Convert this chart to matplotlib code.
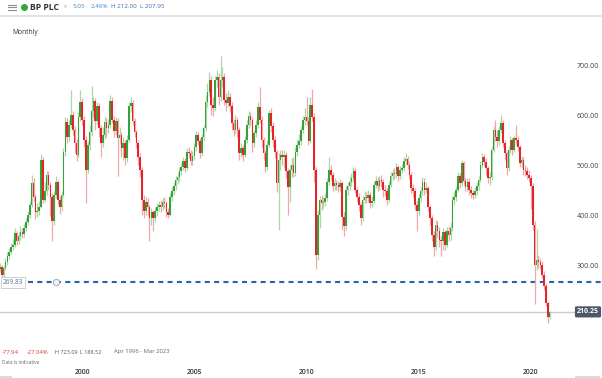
import numpy as np
import matplotlib
matplotlib.use("Agg")
import matplotlib.pyplot as plt
from matplotlib.lines import Line2D
from matplotlib.patches import Rectangle
import matplotlib.transforms as mtransforms

plt.rcParams['font.family'] = ['Open Sans', 'DejaVu Sans']
plt.rcParams['lines.scale_dashes'] = False

# monthly candles, Apr 1996 .. Nov 2020 (open = previous close)
first_open = 288
closes = [296, 300, 284, 298, 311, 322, 331, 340, 345,
          368, 352, 362, 370, 366, 378, 390, 405, 425, 468, 440, 410,
          412, 421, 515, 435, 452, 485, 465, 440, 392, 445, 470, 435,
          420, 445, 530, 590, 560, 585, 604, 575, 548, 525, 600, 630,
          595, 555, 495, 545, 570, 612, 632, 592, 622, 578, 548, 565,
          590, 578, 585, 632, 595, 572, 592, 558, 565, 538, 548, 518,
          555, 622, 628, 592, 570, 548, 520, 495, 435, 412, 430, 420,
          398, 410, 398, 412, 420, 425, 420, 430, 428, 410, 405, 440,
          452, 462, 475, 480, 492, 500, 512, 498, 530, 528, 512, 522,
          540, 565, 552, 528, 560, 578, 630, 650, 675, 625, 618, 675,
          680, 640, 675, 680, 635, 628, 640, 622, 588, 575, 595, 575,
          528, 538, 525, 555, 585, 602, 595, 548, 568, 585, 620, 595,
          555, 528, 500, 545, 608, 582, 555, 530, 468, 515, 525, 520,
          525, 492, 460, 495, 505, 488, 530, 545, 552, 575, 595, 600,
          592, 553, 625, 600, 495, 325, 405, 435, 428, 430, 438, 470,
          495, 485, 462, 468, 465, 460, 468, 400, 382, 455, 462, 470,
          478, 492, 455, 440, 425, 398, 435, 440, 438, 445, 428, 432,
          465, 472, 462, 474, 470, 455, 452, 435, 465, 482, 488, 486,
          500, 482, 494, 498, 512, 516, 505, 485, 458, 452, 425, 412,
          438, 452, 470, 455, 458, 420, 398, 365, 340, 385, 372, 355,
          352, 370, 345, 372, 365, 378, 435, 440, 455, 482, 468, 508,
          472, 460, 470, 455, 448, 445, 452, 462, 475, 505, 520, 510,
          498, 478, 480, 535, 575, 560, 552, 575, 588, 548, 528, 498,
          535, 555, 535, 558, 555, 540, 508, 515, 495, 492, 485, 478,
          462, 385, 305, 315, 310, 305, 285, 262, 228, 200, 210.25]
highs = [302, 308, 305, 303, 318, 330, 338, 348, 356,
         378, 372, 370, 382, 378, 386, 398, 412, 432, 485, 478, 446,
         428, 432, 526, 520, 470, 492, 492, 470, 448, 452, 482, 475,
         442, 452, 538, 600, 598, 594, 654, 612, 582, 556, 610, 655,
         638, 602, 562, 552, 585, 662, 640, 638, 630, 628, 585, 580,
         600, 598, 596, 645, 640, 602, 600, 598, 580, 570, 560, 555,
         565, 630, 640, 635, 598, 575, 555, 528, 500, 445, 440, 438,
         425, 418, 415, 420, 428, 432, 435, 438, 440, 432, 418, 448,
         460, 470, 482, 490, 500, 508, 520, 518, 538, 540, 534, 532,
         548, 572, 570, 558, 566, 585, 645, 668, 690, 682, 640, 682,
         695, 688, 723, 700, 688, 648, 655, 648, 630, 596, 605, 600,
         580, 548, 545, 562, 595, 612, 610, 600, 575, 595, 630, 660,
         602, 560, 535, 555, 615, 618, 590, 562, 535, 528, 535, 535,
         535, 530, 498, 505, 518, 520, 540, 556, 566, 582, 602, 618,
         641, 600, 641, 657, 608, 500, 415, 442, 445, 440, 448, 478,
         521, 505, 490, 478, 475, 472, 476, 472, 410, 462, 470, 480,
         488, 500, 498, 460, 448, 430, 442, 452, 450, 455, 450, 442,
         472, 482, 480, 482, 485, 476, 464, 458, 472, 490, 496, 498,
         508, 505, 502, 506, 520, 528, 522, 510, 490, 466, 458, 432,
         446, 460, 480, 478, 470, 462, 425, 405, 372, 395, 392, 380,
         362, 378, 375, 380, 382, 390, 442, 450, 462, 490, 488, 515,
         512, 478, 478, 478, 462, 455, 460, 470, 482, 512, 528, 526,
         518, 502, 490, 542, 582, 594, 575, 582, 604, 595, 555, 532,
         542, 562, 560, 565, 584, 562, 545, 522, 520, 505, 500, 495,
         485, 468, 392, 377, 325, 318, 312, 292, 268, 232, 212]
lows = [282, 290, 278, 280, 294, 305, 316, 326, 335,
        340, 345, 346, 355, 358, 360, 372, 384, 398, 420, 432, 397,
        400, 405, 418, 428, 430, 445, 455, 402, 352, 385, 438, 425,
        407, 412, 440, 522, 548, 552, 578, 565, 528, 512, 520, 592,
        585, 540, 428, 488, 535, 562, 600, 575, 585, 560, 520, 540,
        556, 560, 568, 578, 588, 560, 565, 482, 548, 520, 515, 505,
        510, 550, 610, 585, 560, 538, 505, 480, 405, 398, 405, 405,
        352, 385, 372, 390, 402, 412, 410, 415, 418, 400, 398, 402,
        432, 445, 455, 466, 472, 485, 494, 490, 495, 518, 505, 505,
        515, 532, 545, 518, 522, 552, 572, 620, 642, 605, 602, 612,
        660, 625, 632, 660, 625, 612, 620, 610, 575, 562, 568, 560,
        515, 520, 512, 520, 548, 578, 585, 530, 540, 560, 578, 588,
        540, 515, 490, 495, 540, 570, 540, 518, 450, 374, 495, 505,
        498, 478, 404, 431, 480, 480, 482, 522, 538, 545, 568, 585,
        585, 545, 548, 592, 470, 297, 315, 378, 415, 418, 422, 432,
        465, 475, 452, 455, 455, 450, 452, 374, 362, 375, 445, 455,
        462, 470, 448, 430, 412, 385, 392, 428, 428, 430, 418, 420,
        428, 458, 452, 455, 460, 440, 442, 425, 430, 460, 475, 476,
        478, 472, 476, 488, 492, 505, 496, 476, 448, 440, 415, 372,
        405, 430, 445, 445, 448, 412, 385, 352, 322, 335, 360, 340,
        322, 335, 335, 340, 352, 355, 372, 425, 432, 450, 458, 462,
        465, 452, 452, 445, 438, 436, 438, 445, 455, 470, 498, 502,
        485, 468, 465, 475, 530, 552, 540, 545, 568, 540, 515, 485,
        492, 528, 525, 530, 545, 532, 500, 498, 485, 482, 476, 470,
        417, 375, 227, 295, 298, 296, 278, 255, 222, 189, 196]

price_ticks = [700, 600, 500, 400, 300]
year_labels = ['2000', '2005', '2010', '2015', '2020']
year_months = [45, 105, 165, 225, 285]   # Jan of each year, counted from Apr 1996
last_price = 210.25
level_price = 269.83

closes = np.array(closes, dtype=float)
highs = np.array(highs, dtype=float)
lows = np.array(lows, dtype=float)
opens = np.concatenate([[first_open], closes[:-1]])
idx = np.arange(len(closes))

W, H = 602, 378
fig = plt.figure(figsize=(W / 100, H / 100), dpi=100)

def fx(x):
    return x / W

def fy(y):
    return 1 - y / H

# plot area: x in px = 1.87*i - 2, y in px = 67 + (700 - v) * 0.5
ax = fig.add_axes([0, fy(330), 1, (330 - 40) / H])
ax.set_xlim((0 + 2) / 1.87, (W + 2) / 1.87)
ax.set_ylim(700 - (330 - 67) * 2, 700 + (67 - 40) * 2)
ax.axis('off')

up = closes >= opens
green, red = '#35a238', '#e5232b'
green_w, red_w = '#a9d9a6', '#f3a6a8'

ax.vlines(idx[up], lows[up], highs[up], color=green_w, lw=0.9, zorder=2)
ax.vlines(idx[~up], lows[~up], highs[~up], color=red_w, lw=0.9, zorder=2)
body = np.maximum(np.abs(closes - opens), 2)
ax.bar(idx[up], body[up], bottom=np.minimum(opens, closes)[up], width=0.85,
       color=green, lw=0, zorder=3)
ax.bar(idx[~up], body[~up], bottom=np.minimum(opens, closes)[~up], width=0.85,
       color=red, lw=0, zorder=3)

# last price line and label
ax.axhline(last_price, xmin=0, xmax=575 / W, color='#c9ccd2', lw=1.0, zorder=1)
ax.text(577 / W, last_price, '%.2f' % last_price, transform=ax.get_yaxis_transform(),
        ha='left', va='center', fontsize=5, color='white', fontweight='bold',
        bbox=dict(boxstyle='round,pad=0.3,rounding_size=0.2', fc='#4b5867', ec='none'))

# horizontal level (dashed)
ax.axhline(level_price, xmin=28 / W, xmax=1, color='#2a62a9', lw=1.5,
           dashes=(3.6, 3.1), zorder=1)
ax.text(3 / W, level_price, '%.2f' % level_price, transform=ax.get_yaxis_transform(),
        ha='left', va='center', fontsize=4.7, color='#5b6f8f',
        bbox=dict(boxstyle='square,pad=0.3', fc='white', ec='#c4c8ce', lw=0.6))
ax.plot([(56 + 2) / 1.87], [level_price], marker='o', ms=4.5, mfc='#f2f3f5',
        mec='#a5aab2', mew=0.7, zorder=4)

# price axis labels
for p in price_ticks:
    ax.text(577 / W, p, '%.2f' % p, transform=ax.get_yaxis_transform(),
            ha='left', va='center', fontsize=5, color='#444444')

# year labels under the chart
tr = mtransforms.blended_transform_factory(ax.transData, fig.transFigure)
for m, lab in zip(year_months, year_labels):
    fig.text(m, fy(372), lab, transform=tr, ha='center', va='center',
             fontsize=5, color='#333333', fontweight='semibold')

# header
for yy in (4.5, 7, 9.5):
    fig.add_artist(Line2D([fx(8), fx(16)], [fy(yy), fy(yy)], color='#8a8f96', lw=0.8))
fig.add_artist(Line2D([fx(24)], [fy(7)], marker='o', ms=4, color='#2eaa3b', lw=0))
fig.text(fx(30), fy(7), 'BP PLC', fontsize=6.2, fontweight='bold', color='#333333',
         va='center', ha='left')
fig.text(fx(64), fy(7), 'v', fontsize=4.3, color='#a0a4aa', va='center', ha='left')
fig.text(fx(73), fy(7), '5.05', fontsize=4.5, color='#3f83c8', va='center', ha='left')
fig.text(fx(91), fy(7), '2.46%', fontsize=4.5, color='#3f83c8', va='center', ha='left')
fig.text(fx(111), fy(7), 'H 212.00', fontsize=4.5, color='#3b6fa8', va='center', ha='left')
fig.text(fx(140), fy(7), 'L 207.95', fontsize=4.5, color='#3b6fa8', va='center', ha='left')
fig.add_artist(Line2D([0, 1], [fy(16), fy(16)], color='#dcdde0', lw=1.2))
fig.text(fx(12), fy(32), 'Monthly', fontsize=4.8, color='#333333', va='center', ha='left')

# footer summary
fig.text(fx(2), fy(352), '-77.94', fontsize=4.2, color='#e03a3a', va='center', ha='left')
fig.text(fx(27), fy(352), '-27.04%', fontsize=4.2, color='#e03a3a', va='center', ha='left')
fig.text(fx(55), fy(352), 'H 723.09', fontsize=4.0, color='#555555', va='center', ha='left')
fig.text(fx(80), fy(352), 'L 188.52', fontsize=4.0, color='#555555', va='center', ha='left')
fig.text(fx(114), fy(352), 'Apr 1996 - Mar 2023', fontsize=4.2, color='#666666',
         va='center', ha='left')
fig.text(fx(2), fy(362), 'Data is indicative', fontsize=3.4, color='#666666',
         va='center', ha='left')

fig.add_artist(Rectangle((fx(0), fy(378)), fx(12), 2 / H, color='#d8dadd', lw=0))
fig.add_artist(Rectangle((fx(575), fy(378)), fx(25), 2 / H, color='#d8dadd', lw=0))

fig.savefig('out.png', dpi=100)
